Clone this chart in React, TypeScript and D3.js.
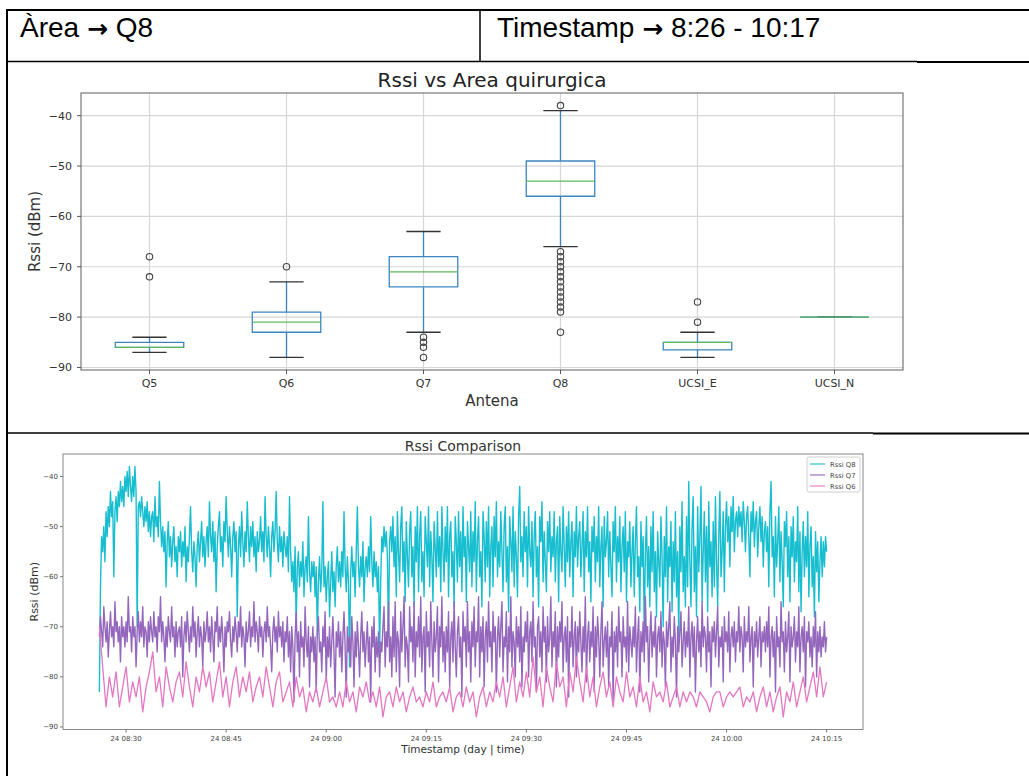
import React from 'react';
import * as d3 from 'd3';

// box plot "Rssi vs Area quirurgica"
const antennas = ['Q5', 'Q6', 'Q7', 'Q8', 'UCSI_E', 'UCSI_N'];
const whiskerLow = [-87, -88, -83, -66, -88, -80];
const quartile1 = [-86, -83, -74, -56, -86.5, -80];
const medians = [-86, -81, -71, -53, -85, -80];
const quartile3 = [-85, -79, -68, -49, -85, -80];
const whiskerHigh = [-84, -73, -63, -39, -83, -80];
const fliers = [
  [-68, -72],
  [-70],
  [-84, -85, -86, -88],
  [-38, -67, -68, -69, -70, -71, -72, -73, -74, -75, -76, -77, -78, -79, -83],
  [-77, -81],
  [],
];
const rssiTicks = [-90, -80, -70, -60, -50, -40];

// time series "Rssi Comparison" (day 24, 08:26 -> 10:15)
const seriesStart = new Date(2021, 4, 24, 8, 26);
const seriesEnd = new Date(2021, 4, 24, 10, 15);

// one row = 4 minutes
const rssiQ8 = [
  -83, -62, -52, -55, -50, -57, -47, -52, -46, -50, -43, -48, -45, -60, -47, -44, -49, -43, -46, -41, -45, -42, -46, -40,
  -43, -39, -44, -38, -42, -45, -40, -44, -38, -43, -70, -46, -45, -48, -44, -47, -50, -46, -49, -45, -51, -47, -52, -48,
  -47, -53, -44, -50, -48, -52, -41, -49, -54, -50, -55, -51, -62, -53, -49, -56, -52, -58, -53, -50, -57, -54, -60, -52,
  -55, -51, -58, -53, -56, -50, -61, -54, -57, -52, -46, -55, -59, -53, -56, -62, -54, -51, -57, -53, -49, -56, -52, -58,
  -53, -50, -56, -45, -52, -55, -49, -57, -51, -63, -54, -50, -47, -55, -52, -58, -49, -53, -44, -51, -56, -50, -54, -60,
  -52, -49, -55, -51, -68, -54, -50, -56, -47, -53, -58, -51, -55, -45, -52, -57, -50, -54, -49, -56, -52, -59, -51, -55,
  -53, -48, -55, -51, -57, -44, -52, -56, -50, -54, -60, -52, -49, -55, -51, -43, -53, -57, -50, -55, -52, -58, -51, -54,
  -56, -52, -59, -44, -55, -61, -57, -63, -54, -70, -58, -55, -62, -57, -60, -53, -64, -58, -56, -61, -48, -59, -63, -57,
  -60, -57, -64, -58, -72, -61, -56, -63, -59, -45, -62, -58, -65, -60, -57, -68, -61, -55, -63, -59, -66, -58, -54, -61,
  -57, -62, -55, -60, -47, -58, -63, -56, -61, -78, -59, -54, -60, -57, -64, -55, -46, -58, -62, -56, -60, -53, -65, -58,
  -56, -60, -54, -59, -48, -57, -62, -55, -60, -57, -63, -58, -75, -61, -52, -55, -50, -54, -51, -56, -72, -53, -50, -55,
  -48, -58, -52, -64, -47, -55, -61, -50, -46, -59, -53, -65, -49, -56, -62, -51, -47, -60, -54, -66, -50, -57, -46, -63,
  -52, -47, -61, -55, -64, -48, -53, -58, -46, -62, -51, -56, -65, -49, -54, -60, -47, -58, -52, -63, -46, -55, -61, -50,
  -57, -46, -64, -52, -49, -60, -55, -66, -48, -53, -61, -47, -58, -51, -63, -46, -56, -52, -65, -49, -54, -59, -47, -62,
  -51, -57, -45, -63, -53, -48, -60, -55, -66, -47, -52, -61, -49, -58, -46, -64, -54, -50, -62, -48, -56, -45, -60, -53,
  -58, -47, -55, -63, -50, -46, -61, -54, -67, -48, -53, -59, -46, -62, -51, -56, -64, -48, -42, -57, -52, -60, -47, -55,
  -50, -62, -46, -55, -58, -49, -64, -52, -47, -60, -54, -66, -48, -53, -45, -61, -51, -57, -63, -49, -55, -47, -59, -52,
  -56, -47, -61, -53, -50, -65, -48, -55, -59, -46, -54, -62, -50, -57, -47, -60, -53, -49, -64, -51, -56, -46, -58, -52,
  -49, -60, -54, -47, -63, -51, -56, -46, -59, -53, -65, -50, -55, -48, -61, -52, -57, -46, -62, -54, -50, -66, -48, -56,
  -53, -47, -60, -51, -58, -64, -49, -55, -46, -61, -52, -57, -48, -63, -54, -50, -59, -47, -65, -53, -56, -49, -62, -55,
  -50, -64, -53, -46, -60, -56, -67, -49, -58, -52, -72, -55, -48, -62, -54, -66, -50, -59, -47, -63, -55, -68, -51, -57,
  -62, -48, -56, -70, -52, -60, -46, -65, -54, -58, -49, -67, -53, -61, -47, -64, -55, -72, -50, -59, -45, -63, -56, -66,
  -48, -62, -41, -57, -66, -50, -44, -63, -54, -68, -46, -59, -52, -42, -65, -55, -47, -61, -50, -67, -45, -58, -53, -64,
  -49, -62, -44, -57, -66, -52, -43, -60, -55, -47, -63, -50, -45, -53, -48, -58, -46, -51, -44, -55, -49, -47, -52, -46,
  -50, -47, -53, -45, -49, -55, -48, -46, -52, -60, -47, -51, -45, -54, -49, -47, -56, -50, -46, -53, -48, -58, -51, -49,
  -55, -50, -62, -47, -41, -56, -52, -64, -48, -58, -53, -46, -61, -51, -57, -66, -49, -54, -47, -60, -52, -65, -50, -56,
  -48, -61, -53, -57, -46, -63, -51, -67, -55, -49, -60, -52, -58, -47, -64, -54, -50, -62, -56, -68, -51, -59, -53, -65,
  -57, -52, -60, -53, -58, -52, -55,
];

const rssiQ7 = [
  -72, -68, -71, -74, -66, -70, -73, -69, -76, -71, -67, -72, -70, -74, -65, -71, -69, -73, -70, -77, -68, -72, -70, -74,
  -69, -73, -64, -71, -70, -75, -68, -72, -70, -78, -71, -67, -73, -69, -72, -66, -74, -70, -71, -76, -69, -73, -68, -71,
  -73, -67, -72, -70, -75, -68, -71, -64, -73, -69, -72, -77, -70, -74, -68, -71, -73, -66, -72, -70, -76, -69, -74, -71,
  -70, -74, -68, -80, -72, -69, -73, -67, -71, -75, -70, -73, -66, -72, -69, -76, -71, -68, -74, -70, -72, -78, -69, -73,
  -71, -67, -73, -70, -75, -68, -72, -77, -69, -71, -66, -74, -70, -73, -68, -72, -79, -70, -74, -69, -71, -67, -73, -76,
  -70, -73, -68, -71, -75, -69, -72, -66, -74, -70, -72, -78, -69, -73, -71, -67, -74, -70, -72, -65, -73, -69, -71, -75,
  -68, -72, -70, -76, -71, -69, -73, -66, -72, -70, -74, -79, -71, -68, -73, -70, -75, -67, -72, -70, -74, -69, -77, -71,
  -73, -68, -76, -71, -79, -70, -74, -85, -72, -67, -75, -71, -80, -69, -74, -72, -78, -66, -73, -76, -70, -82, -72, -75,
  -70, -77, -72, -83, -71, -68, -75, -73, -79, -70, -74, -67, -81, -72, -76, -70, -78, -73, -68, -75, -84, -71, -74, -69,
  -76, -71, -79, -72, -67, -74, -84, -70, -75, -72, -78, -68, -73, -82, -71, -76, -69, -74, -80, -72, -67, -75, -71, -78,
  -73, -69, -77, -72, -85, -70, -74, -68, -79, -72, -76, -71, -80, -73, -75, -70, -66, -78, -71, -74, -65, -77, -72, -80,
  -68, -76, -65, -79, -71, -73, -82, -67, -75, -70, -64, -78, -72, -74, -81, -66, -73, -70, -77, -65, -80, -71, -74, -68,
  -76, -64, -79, -72, -70, -83, -67, -74, -71, -78, -65, -73, -80, -69, -75, -72, -66, -81, -70, -74, -64, -77, -71, -79,
  -70, -75, -67, -82, -72, -69, -77, -65, -74, -80, -71, -68, -76, -72, -84, -67, -73, -70, -78, -65, -75, -71, -81, -69,
  -74, -66, -78, -71, -73, -64, -80, -70, -75, -68, -82, -72, -69, -77, -65, -74, -71, -79, -67, -73, -70, -83, -72, -68,
  -76, -70, -65, -79, -72, -74, -67, -81, -70, -75, -64, -78, -71, -73, -80, -68, -74, -70, -77, -66, -82, -72, -75, -69,
  -73, -67, -80, -71, -69, -77, -65, -74, -72, -83, -70, -68, -76, -71, -79, -66, -73, -70, -81, -68, -75, -72, -64, -78,
  -71, -74, -67, -82, -70, -76, -69, -73, -65, -79, -72, -70, -77, -68, -84, -71, -74, -66, -78, -72, -69, -80, -70, -75,
  -67, -73, -79, -70, -75, -64, -81, -72, -69, -77, -71, -74, -66, -83, -70, -76, -68, -72, -80, -71, -65, -78, -73, -70,
  -76, -69, -82, -72, -74, -67, -85, -71, -75, -70, -78, -66, -73, -71, -80, -68, -74, -72, -77, -65, -79, -70, -73, -76,
  -70, -74, -66, -79, -72, -68, -83, -71, -75, -69, -77, -64, -73, -70, -81, -72, -67, -76, -71, -74, -68, -80, -72, -70,
  -75, -67, -78, -71, -73, -82, -69, -74, -70, -65, -79, -72, -76, -68, -73, -84, -70, -75, -71, -67, -78, -73, -69, -76,
  -71, -74, -66, -80, -72, -69, -76, -70, -83, -73, -68, -75, -71, -78, -65, -74, -70, -72, -79, -68, -75, -71, -82, -70,
  -73, -69, -76, -71, -66, -78, -72, -74, -70, -81, -68, -73, -71, -75, -67, -79, -72, -70, -74, -69, -77, -71, -73, -66,
  -75, -70, -72, -79, -68, -74, -71, -73, -66, -77, -72, -70, -82, -71, -74, -69, -76, -72, -68, -78, -71, -73, -70, -75,
  -69, -74, -66, -80, -72, -70, -76, -71, -83, -68, -74, -72, -78, -65, -73, -71, -79, -69, -75, -72, -67, -81, -70, -74,
  -72, -68, -77, -71, -74, -66, -79, -72, -70, -75, -68, -82, -71, -73, -69, -76, -72, -78, -70, -74, -67, -80, -71, -75,
  -70, -76, -72, -74, -69, -75, -72,
];

const rssiQ6 = [
  -70, -78, -86, -80, -84, -79, -86, -82,
  -78, -85, -81, -84, -80, -87, -82, -79,
  -75, -83, -80, -86, -78, -82, -85, -81,
  -79, -84, -77, -82, -86, -80, -83, -78,
  -82, -79, -85, -81, -77, -84, -80, -86,
  -81, -78, -84, -80, -83, -79, -85, -82,
  -80, -84, -78, -82, -86, -81, -79, -85,
  -83, -81, -86, -80, -84, -82, -87, -83,
  -85, -82, -86, -83, -80, -85, -84, -86,
  -83, -86, -81, -85, -83, -87, -82, -84,
  -81, -85, -83, -86, -82, -88, -84, -83,
  -86, -82, -85, -83, -87, -84, -82, -85,
  -84, -86, -83, -85, -81, -86, -84, -83,
  -85, -82, -87, -84, -83, -86, -82, -85,
  -83, -88, -84, -82, -86, -83, -85, -81,
  -84, -80, -86, -82, -78, -85, -81, -84,
  -79, -84, -76, -83, -80, -86, -78, -82,
  -85, -77, -82, -80, -86, -79, -83, -76,
  -81, -85, -78, -84, -80, -86, -82, -79,
  -84, -81, -86, -80, -83, -85, -79, -84,
  -82, -86, -80, -85, -83, -87, -81, -84,
  -83, -85, -81, -86, -84, -82, -86, -83,
  -85, -83, -84, -86, -83, -84, -85, -87,
  -84, -83, -83, -86, -84, -83, -84, -83,
  -82, -86, -84, -85, -83, -87, -84, -82,
  -86, -83, -87, -84, -82, -88, -83, -85,
  -81, -86, -83, -80, -85, -82, -79, -84,
  -78, -84, -81,
];

const seriesNames = ['Rssi Q8', 'Rssi Q7', 'Rssi Q6'];
const seriesValues = [rssiQ8, rssiQ7, rssiQ6];
const seriesColors = ['#17becf', '#9467bd', '#e377c2'];
const seriesWidths = [1.4, 1.4, 1.3];

const mplFont = '"DejaVu Sans", sans-serif';

function timesFor(values: number[]) {
  const span = +seriesEnd - +seriesStart;
  return values.map((_, i) => new Date(+seriesStart + (i * span) / (values.length - 1)));
}

function BoxChart() {
  const left = 81, right = 903, top = 93, bottom = 370;
  const x = d3.scalePoint<string>().domain(antennas).range([left, right]).padding(0.5);
  const y = d3.scaleLinear().domain([-90.5, -35.5]).range([bottom, top]);
  const boxW = x.step() * 0.5;
  const capW = boxW * 0.5;
  const fmt = d3.format('d');
  const boxColor = '#3d85c2';

  return (
    <g fontFamily={mplFont}>
      <text x={(left + right) / 2} y={86.5} textAnchor="middle" fontSize={20} fill="#222">
        Rssi vs Area quirurgica
      </text>
      {rssiTicks.map(t => (
        <line key={'gy' + t} x1={left} x2={right} y1={y(t)} y2={y(t)} stroke="#d6d6d6" strokeWidth={1.2} />
      ))}
      {antennas.map(a => (
        <line key={'gx' + a} x1={x(a)} x2={x(a)} y1={top} y2={bottom} stroke="#d6d6d6" strokeWidth={1.2} />
      ))}
      {antennas.map((a, i) => {
        const cx = x(a)!;
        return (
          <g key={a}>
            <line x1={cx} x2={cx} y1={y(quartile1[i])} y2={y(whiskerLow[i])} stroke={boxColor} strokeWidth={1.3} />
            <line x1={cx} x2={cx} y1={y(quartile3[i])} y2={y(whiskerHigh[i])} stroke={boxColor} strokeWidth={1.3} />
            <line x1={cx - capW / 2} x2={cx + capW / 2} y1={y(whiskerLow[i])} y2={y(whiskerLow[i])} stroke="#333" strokeWidth={1.3} />
            <line x1={cx - capW / 2} x2={cx + capW / 2} y1={y(whiskerHigh[i])} y2={y(whiskerHigh[i])} stroke="#333" strokeWidth={1.3} />
            <path
              d={`M${cx - boxW / 2},${y(quartile3[i])}H${cx + boxW / 2}V${y(quartile1[i])}H${cx - boxW / 2}Z`}
              fill="none"
              stroke={boxColor}
              strokeWidth={1.3}
            />
            <line x1={cx - boxW / 2} x2={cx + boxW / 2} y1={y(medians[i])} y2={y(medians[i])} stroke="#5cb85c" strokeWidth={1.3} />
            {fliers[i].map((v, j) => (
              <circle key={j} cx={cx} cy={y(v)} r={3.2} fill="none" stroke="#444" strokeWidth={1.1} />
            ))}
          </g>
        );
      })}
      <rect x={left} y={top} width={right - left} height={bottom - top} fill="none" stroke="#777" strokeWidth={1.2} />
      {rssiTicks.map(t => (
        <g key={'ty' + t}>
          <line x1={left - 4} x2={left} y1={y(t)} y2={y(t)} stroke="#555" />
          <text x={left - 9} y={y(t) + 4} textAnchor="end" fontSize={11} fill="#333">{fmt(t)}</text>
        </g>
      ))}
      {antennas.map(a => (
        <g key={'tx' + a}>
          <line x1={x(a)} x2={x(a)} y1={bottom} y2={bottom + 4} stroke="#555" />
          <text x={x(a)} y={387} textAnchor="middle" fontSize={11} fill="#333">{a}</text>
        </g>
      ))}
      <text x={(left + right) / 2} y={406} textAnchor="middle" fontSize={15} fill="#333">Antena</text>
      <text transform={`translate(40,${(top + bottom) / 2}) rotate(-90)`} textAnchor="middle" fontSize={15} fill="#333">
        Rssi (dBm)
      </text>
    </g>
  );
}

function LineChart() {
  const left = 63, right = 863, top = 454, bottom = 729.5;
  const pad = (+seriesEnd - +seriesStart) * 0.05;
  const x = d3.scaleTime()
    .domain([new Date(+seriesStart - pad), new Date(+seriesEnd + pad)])
    .range([left, right]);
  const y = d3.scaleLinear().domain([-90.5, -35.5]).range([bottom, top]);
  const xTicks = x.ticks(d3.timeMinute.every(15)!);
  const xFmt = d3.timeFormat('%d %H:%M');
  const yFmt = d3.format('d');

  return (
    <g fontFamily={mplFont}>
      <text x={(left + right) / 2} y={450.5} textAnchor="middle" fontSize={14} fill="#333">Rssi Comparison</text>
      {seriesValues.map((vals, s) => {
        const times = timesFor(vals);
        const line = d3.line<number>()
          .x((_, i) => x(times[i]))
          .y(d => y(d));
        return (
          <path key={s} d={line(vals)!} fill="none" stroke={seriesColors[s]} strokeWidth={seriesWidths[s]} strokeLinejoin="round" />
        );
      })}
      <rect x={left} y={top} width={right - left} height={bottom - top} fill="none" stroke="#888" strokeWidth={1} />
      {rssiTicks.map(t => (
        <g key={'ty' + t}>
          <line x1={left - 3} x2={left} y1={y(t)} y2={y(t)} stroke="#777" />
          <text x={left - 5} y={y(t) + 2.5} textAnchor="end" fontSize={7} fill="#444">{yFmt(t)}</text>
        </g>
      ))}
      {xTicks.map(t => (
        <g key={'tx' + +t}>
          <line x1={x(t)} x2={x(t)} y1={bottom} y2={bottom + 3} stroke="#777" />
          <text x={x(t)} y={740.5} textAnchor="middle" fontSize={7} fill="#444">{xFmt(t)}</text>
        </g>
      ))}
      <text x={(left + right) / 2} y={753} textAnchor="middle" fontSize={10.5} fill="#333">Timestamp (day | time)</text>
      <text transform={`translate(38,${(top + bottom) / 2}) rotate(-90)`} textAnchor="middle" fontSize={11} fill="#333">
        Rssi (dBm)
      </text>
      <g transform="translate(807,457)">
        <rect width={53} height={35} rx={2} fill="#fff" fillOpacity={0.85} stroke="#d0d0d0" />
        {seriesNames.map((n, i) => (
          <g key={n} transform={`translate(0,${7 + i * 11})`}>
            <line x1={3} x2={18} y1={0} y2={0} stroke={seriesColors[i]} strokeWidth={1.1} />
            <text x={23} y={2.5} fontSize={6.8} fill="#444">{n}</text>
          </g>
        ))}
      </g>
    </g>
  );
}

export default function App() {
  const font = '"Liberation Sans", Arial, sans-serif';
  const arrow = <tspan fontFamily={mplFont} fontWeight="bold" fontSize={25}>→</tspan>;
  return (
    <svg
      width={1029}
      height={776}
      style={{ position: 'absolute', left: 0, top: 0, background: '#fff' }}
    >
      <rect width={1029} height={776} fill="#fff" />
      <g stroke="#000">
        <line x1={7} x2={1029} y1={10} y2={10} strokeWidth={2} />
        <line x1={7} x2={917} y1={61.5} y2={61.5} strokeWidth={1.3} />
        <line x1={917} x2={1029} y1={62} y2={62} strokeWidth={2} />
        <line x1={7} x2={873} y1={433} y2={433} strokeWidth={1.3} />
        <line x1={873} x2={1029} y1={433.5} y2={433.5} strokeWidth={2} />
        <line x1={7} x2={7} y1={9} y2={776} strokeWidth={2} />
        <line x1={480} x2={480} y1={10} y2={62} strokeWidth={1.5} />
      </g>
      <text x={20} y={37} fontFamily={font} fontSize={28} fill="#000">Àrea {arrow} Q8</text>
      <text x={497} y={37} fontFamily={font} fontSize={28} fill="#000">Timestamp {arrow} 8:26 - 10:17</text>
      <BoxChart />
      <LineChart />
    </svg>
  );
}
